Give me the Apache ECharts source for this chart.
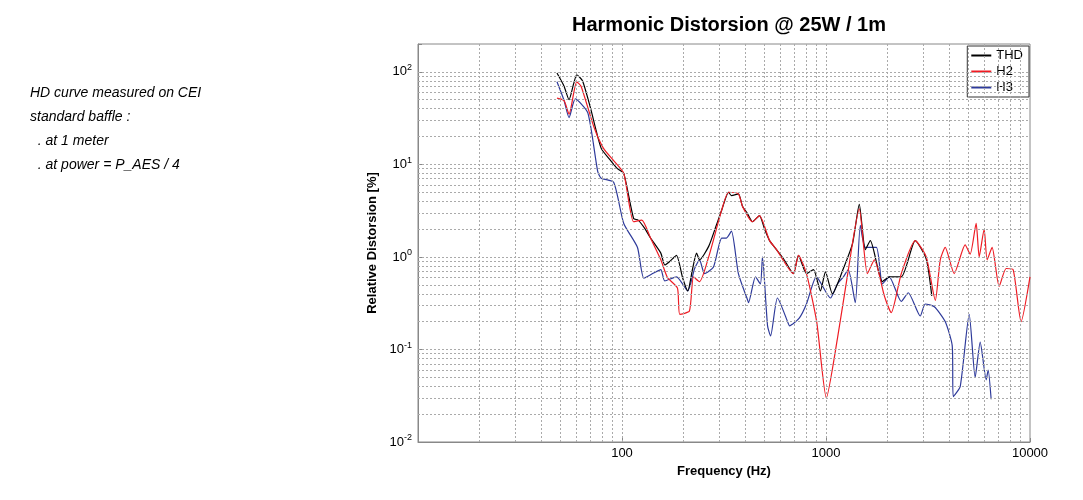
<!DOCTYPE html>
<html><head><meta charset="utf-8">
<script src="https://cdn.jsdelivr.net/npm/echarts@6/dist/echarts.min.js"></script>
<style>html,body{margin:0;padding:0;background:#fff}#c{width:1083px;height:500px}</style>
</head><body><div id="c"></div>
<script>
const THD = [[48,97],[52,70],[55,50],[58,75],[60,93],[64,80],[70,41],[79,15],[88,11],[95,9],[102,8.0],[114,2.6],[120,2.5],[130,2.0],[138,1.6],[155,1.1],[162,0.82],[172,0.9],[185,1.04],[198,0.6],[210,0.43],[222,0.75],[232,1.1],[240,0.93],[266,1.3],[290,2.2],[308,3.2],[333,5.0],[344,4.6],[372,4.8],[390,3.5],[410,3.0],[436,2.4],[472,2.8],[500,2.0],[529,1.5],[572,1.2],[620,0.95],[692,0.66],[733,1.04],[802,0.66],[868,0.73],[939,0.43],[994,0.69],[1075,0.40],[1217,0.75],[1350,1.4],[1456,3.7],[1558,1.2],[1649,1.5],[1889,0.54],[2043,0.61],[2339,0.61],[2739,1.5],[3100,0.95],[3300,0.38]];
const H2 = [[48,52],[52,49],[55,35],[60,78],[63,70],[73,25],[81,15],[91,11],[102,8.0],[114,2.4],[125,2.5],[138,1.6],[155,0.93],[167,0.6],[187,0.46],[192,0.24],[214,0.26],[224,0.61],[240,0.54],[266,1.0],[308,3.2],[333,5.0],[372,4.8],[390,3.5],[436,2.4],[472,2.8],[529,1.5],[572,1.2],[692,0.66],[733,1.04],[802,0.66],[900,0.2],[1004,0.03],[1137,0.13],[1271,0.61],[1456,3.3],[1595,0.66],[1726,0.93],[1932,0.38],[2089,0.25],[2339,0.66],[2739,1.5],[3100,1.0],[3434,0.34],[3631,0.93],[3840,1.27],[4250,0.66],[4810,1.35],[5090,1.07],[5445,2.3],[5635,1.0],[5960,2.0],[6165,0.93],[6520,1.27],[7060,0.48],[7640,0.75],[8265,0.73],[9040,0.2],[10000,0.61]];
const H3 = [[48,78],[52,49],[55,32],[59,51],[68,36],[76,8.4],[79,7.1],[91,6.4],[102,2.3],[119,1.27],[128,0.59],[143,0.67],[155,0.73],[162,0.55],[185,0.61],[210,0.43],[227,0.75],[240,0.93],[254,0.66],[281,0.78],[308,1.6],[325,1.6],[344,1.9],[372,0.66],[413,0.34],[417,0.32],[451,0.61],[477,0.51],[488,1.0],[517,0.18],[535,0.14],[578,0.36],[654,0.19],[662,0.18],[741,0.22],[802,0.31],[897,0.61],[1051,0.36],[1137,0.51],[1217,0.61],[1286,0.73],[1392,0.32],[1473,2.2],[1558,1.27],[1766,1.27],[1889,0.51],[2043,0.61],[2339,0.33],[2531,0.41],[2897,0.23],[3066,0.31],[3397,0.29],[3840,0.20],[4156,0.11],[4205,0.031],[4550,0.040],[5035,0.24],[5385,0.05],[5700,0.12],[6100,0.047],[6235,0.06],[6450,0.029]];
const xDecades = [10,100,1000];
const yDecades = [0.01,0.1,1,10,100];
const noteLines = ['HD curve measured on CEI','standard baffle :','  . at 1 meter','  . at power = P_AES / 4'];

const xGrid=[], yGrid=[];
xDecades.forEach(d=>{for(let k=1;k<=10;k++){const v=d*k; if(v>10&&v<10000) xGrid.push({xAxis:v});}});
yDecades.forEach(d=>{for(let k=1;k<=9;k++){const v=d*k; if(v>0.01&&v<200) yGrid.push({yAxis:v});}});

const chart=echarts.init(document.getElementById('c'));
chart.setOption({
  animation:false,
  title:{text:'Harmonic Distorsion @ 25W / 1m',left:724,top:10,textAlign:'center',textStyle:{fontFamily:'Liberation Sans',fontSize:20,fontWeight:'bold',color:'#000'}},
  graphic:noteLines.map((t,i)=>({type:'text',left:30,top:86+i*24,style:{text:t,font:'italic 14px "Liberation Sans"',fill:'#000'}})),
  legend:{orient:'vertical',right:54,top:46,backgroundColor:'#fff',borderColor:'#333',borderWidth:1,padding:[3,6,3,4],itemGap:3,itemWidth:20,itemHeight:2,
    textStyle:{fontFamily:'Liberation Sans',fontSize:13,color:'#000'},data:['THD','H2','H3'],icon:'rect'},
  grid:{left:418,right:53,top:44,bottom:58,show:true,borderColor:'#888',borderWidth:1},
  xAxis:{type:'log',min:10,max:10000,logBase:10,name:'Frequency (Hz)',nameLocation:'middle',nameGap:22,
    nameTextStyle:{fontFamily:'Liberation Sans',fontSize:13,fontWeight:'bold',color:'#000'},
    axisLine:{lineStyle:{color:'#888'}},axisTick:{inside:true,length:4,lineStyle:{color:'#888'}},
    axisLabel:{fontFamily:'Liberation Sans',fontSize:13,color:'#000',margin:5,formatter:v=>v==10?'':String(v)},
    splitLine:{show:false}},
  yAxis:{type:'log',min:0.01,max:200,logBase:10,name:'Relative Distorsion [%]',nameLocation:'middle',nameGap:25,
    nameTextStyle:{fontFamily:'Liberation Sans',fontSize:13,fontWeight:'bold',color:'#000'},
    axisLine:{lineStyle:{color:'#888'}},axisTick:{inside:true,length:4,lineStyle:{color:'#888'}},
    axisLabel:{fontFamily:'Liberation Sans',fontSize:13,color:'#000',margin:6,
      formatter:v=>{const e=Math.round(Math.log10(v)); if(Math.abs(Math.log10(v)-e)>1e-6) return ''; return '10{s|'+e+'}';},
      rich:{s:{fontSize:9,verticalAlign:'top',padding:[0,0,8,0],fontFamily:'Liberation Sans'}}},
    splitLine:{show:false}},
  series:[
    {type:'line',name:'grid',data:[],silent:true,legendHoverLink:false,
     markLine:{silent:true,symbol:'none',label:{show:false},animation:false,
       lineStyle:{color:'#aaa',type:[2,2],width:1},data:xGrid.concat(yGrid)}},
    {type:'line',name:'H3',data:H3,showSymbol:false,smooth:0.2,lineStyle:{color:'#2e3a9a',width:1.2},itemStyle:{color:'#2e3a9a'}},
    {type:'line',name:'THD',data:THD,showSymbol:false,smooth:0.2,lineStyle:{color:'#000',width:1.2},itemStyle:{color:'#000'}},
    {type:'line',name:'H2',data:H2,showSymbol:false,smooth:0.2,lineStyle:{color:'#ee1c24',width:1.2},itemStyle:{color:'#ee1c24'}}
  ]
});
</script></body></html>
